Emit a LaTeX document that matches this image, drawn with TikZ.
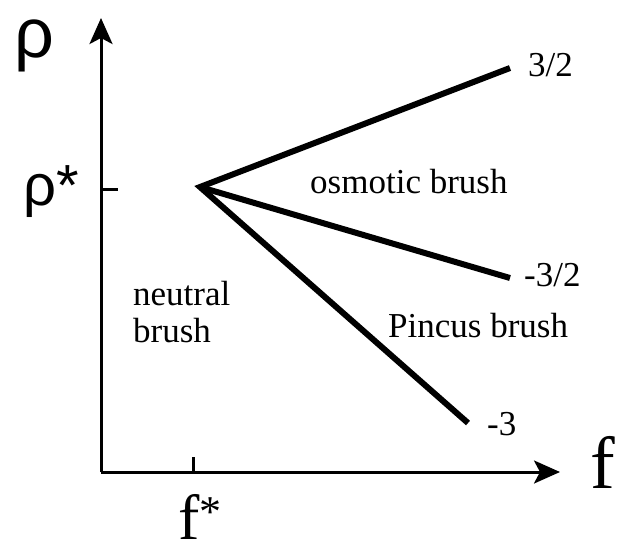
\documentclass[tikz,border=0pt]{standalone}
\usepackage{fontspec}
\usetikzlibrary{arrows.meta}
\setmainfont{Liberation Serif}
\newfontfamily\greekfont{Liberation Sans}

\begin{document}
\begin{tikzpicture}[
  x=1pt, y=-1pt,
  axis/.style={line width=3pt,-{Stealth[length=26pt,width=23pt,inset=6pt]}},
  branch/.style={line width=6pt},
  tickline/.style={line width=3pt},
  lbl/.style={anchor=base west,inner sep=0pt,font=\fontsize{35}{37}\selectfont},
  biglbl/.style={anchor=base west,inner sep=0pt,font=\fontsize{74}{80}\selectfont},
  rholbl/.style={anchor=base west,inner sep=0pt,font=\greekfont\fontsize{70}{80}\selectfont}
]
  \useasboundingbox (0,0) rectangle (621,544);
  % axes
  \coordinate (o) at (101,472);
  \coordinate (ytop) at (101,18);
  \coordinate (xend) at (560,472);
  \draw[axis] (o) -- (ytop);
  \draw[axis] (o) -- (xend);
  % ticks
  \coordinate (rt0) at (101,189);
  \coordinate (rt1) at (118,189);
  \coordinate (ft0) at (193,472);
  \coordinate (ft1) at (193,457);
  \draw[tickline] (rt0) -- (rt1);
  \draw[tickline] (ft0) -- (ft1);
  % crossover point and branches
  \coordinate (v) at (200,187);
  \coordinate (b1) at (510,68);
  \coordinate (b2) at (510,278);
  \coordinate (b3) at (468,423);
  \draw[branch] (b1) -- (v) -- (b3);
  \draw[branch] (v) -- (b2);
  % labels
  \node[rholbl] (rho) at (14,57) {ρ};
  \node[rholbl,font=\greekfont\fontsize{58}{64}\selectfont] (rhos) at (23,205) {ρ*};
  \node[biglbl] (f) at (590,488) {f};
  \node[lbl,font=\fontsize{64}{70}\selectfont] (fs) at (178,539) {f{\fontsize{44}{44}\selectfont\raisebox{13pt}{*}}};
  \node[lbl] (s1) at (528,76) {3/2};
  \node[lbl] (s2) at (524,286) {-3/2};
  \node[lbl] (s3) at (487,435) {-3};
  \node[lbl] (osm) at (310,193) {osmotic brush};
  \node[lbl] (pin) at (388,337) {Pincus brush};
  \node[lbl,anchor=north west,align=left] (neu) at (133,281) {neutral\\brush};
\end{tikzpicture}
\end{document}
